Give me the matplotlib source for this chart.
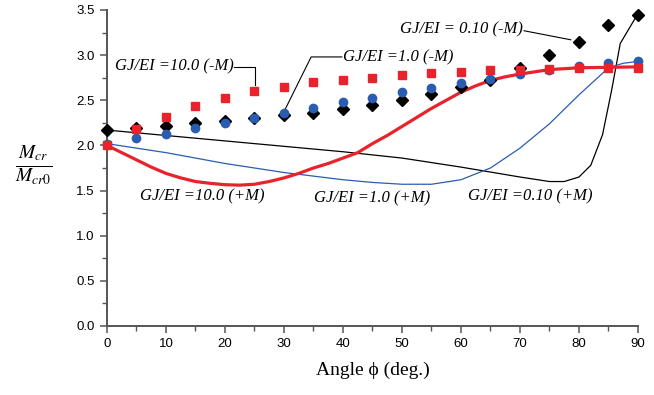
import matplotlib
matplotlib.use('Agg')
import matplotlib.pyplot as plt
from matplotlib.ticker import MultipleLocator

plt.rcParams['mathtext.fontset'] = 'stix'

# markers (-M), every 5 degrees
angle = [0, 5, 10, 15, 20, 25, 30, 35, 40, 45, 50, 55, 60, 65, 70, 75, 80, 85, 90]
gj010_neg = [2.17, 2.19, 2.21, 2.25, 2.27, 2.30, 2.34, 2.36, 2.40, 2.45, 2.50, 2.57, 2.65,
             2.72, 2.86, 3.00, 3.15, 3.33, 3.45]
gj1_neg = [2.02, 2.08, 2.13, 2.19, 2.25, 2.30, 2.36, 2.42, 2.48, 2.53, 2.59, 2.64, 2.69,
           2.74, 2.79, 2.84, 2.88, 2.91, 2.93]
gj10_neg = [2.00, 2.18, 2.32, 2.44, 2.53, 2.60, 2.65, 2.70, 2.73, 2.75, 2.78, 2.80, 2.81,
            2.83, 2.84, 2.85, 2.86, 2.86, 2.86]

# curves (+M)
ang_red = [0, 2.5, 5, 7.5, 10, 12.5, 15, 17.5, 20, 22.5, 25, 27.5, 30, 32.5, 35, 37.5, 40,
           42.5, 45, 47.5, 50, 52.5, 55, 57.5, 60, 62.5, 65, 67.5, 70, 75, 80, 85, 90]
gj10_pos = [2.00, 1.92, 1.84, 1.76, 1.69, 1.64, 1.60, 1.58, 1.565, 1.56, 1.57, 1.60, 1.64,
            1.69, 1.75, 1.80, 1.86, 1.92, 2.02, 2.11, 2.21, 2.31, 2.41, 2.50, 2.59, 2.66,
            2.72, 2.76, 2.79, 2.84, 2.86, 2.865, 2.87]
ang_blue = [0, 5, 10, 15, 20, 25, 30, 35, 40, 45, 50, 55, 60, 65, 70, 75, 80, 85, 87.5, 90]
gj1_pos = [2.02, 1.97, 1.92, 1.86, 1.80, 1.75, 1.70, 1.66, 1.62, 1.59, 1.57, 1.57, 1.62,
           1.75, 1.97, 2.24, 2.56, 2.86, 2.91, 2.93]
ang_black = [0, 10, 20, 30, 40, 50, 60, 70, 75, 77.5, 80, 82, 84, 85.5, 87, 90]
gj010_pos = [2.17, 2.11, 2.05, 1.99, 1.93, 1.86, 1.76, 1.65, 1.60, 1.60, 1.65, 1.78, 2.12,
             2.60, 3.13, 3.46]

blue = '#2a5db0'
red = '#e8232b'
serif = ['Liberation Serif', 'DejaVu Serif']

fig = plt.figure(figsize=(6.54, 3.95), dpi=100)
ax = fig.add_axes([0.1636, 0.1747, 0.8119, 0.80])

ax.plot(ang_black, gj010_pos, color='black', lw=0.9, zorder=2, clip_on=False)
ax.plot(ang_blue, gj1_pos, color=blue, lw=0.9, zorder=2, clip_on=False)
ax.plot(ang_red, gj10_pos, color=red, lw=2.3, zorder=3, clip_on=False)

ax.plot(angle, gj010_neg, 'D', color='black', ms=6.5, ls='none', zorder=4, clip_on=False)
ax.plot(angle, gj1_neg, 'o', color=blue, ms=6, ls='none', zorder=5, clip_on=False)
ax.plot(angle, gj10_neg, 's', color=red, ms=5.8, ls='none', zorder=6, clip_on=False)

ax.set_xlim(0, 90)
ax.set_ylim(0, 3.5)
ax.xaxis.set_major_locator(MultipleLocator(10))
ax.xaxis.set_minor_locator(MultipleLocator(5))
ax.yaxis.set_major_locator(MultipleLocator(0.5))
ax.yaxis.set_minor_locator(MultipleLocator(0.25))
ax.yaxis.set_major_formatter(matplotlib.ticker.FormatStrFormatter('%.1f'))

for s in ['top', 'right']:
    ax.spines[s].set_visible(False)
for s in ['left', 'bottom']:
    ax.spines[s].set_color('#555555')
    ax.spines[s].set_linewidth(1.4)
ax.tick_params(which='major', length=5, width=1.1, color='#555555',
               labelsize=9.5, labelfontfamily='Liberation Sans', pad=4)
ax.tick_params(which='minor', length=3.5, width=1.0, color='#555555')

# labels
txt = dict(family=serif, style='italic', fontsize=12)
ax.text(21.4, 2.87, 'GJ/EI =10.0 (-M)', ha='right', va='center', **txt)
ax.plot([21.6, 25.1, 25.1], [2.87, 2.87, gj10_neg[5] + 0.07], color='black', lw=0.8)

ax.text(40.0, 2.98, 'GJ/EI =1.0 (-M)', ha='left', va='center', **txt)
ax.plot([39.8, 34.6, 30.2], [2.98, 2.98, gj1_neg[6] + 0.04], color='black', lw=0.8)

ax.text(70.5, 3.28, 'GJ/EI = 0.10 (-M)', ha='right', va='center', **txt)
ax.plot([70.7, 78.6], [3.27, gj010_neg[16] + 0.02], color='black', lw=0.8)

ax.text(16.1, 1.43, 'GJ/EI =10.0 (+M)', ha='center', va='center', **txt)
ax.text(44.9, 1.41, 'GJ/EI =1.0 (+M)', ha='center', va='center', **txt)
ax.text(71.7, 1.44, 'GJ/EI =0.10 (+M)', ha='center', va='center', **txt)

ax.text(-0.137, 0.51, r'$\frac{M_{cr}}{M_{cr0}}$', transform=ax.transAxes,
        ha='center', va='center', fontsize=20)
ax.set_xlabel('Angle ϕ (deg.)', family=serif, fontsize=14, labelpad=8)

fig.savefig('out.png', dpi=100)
